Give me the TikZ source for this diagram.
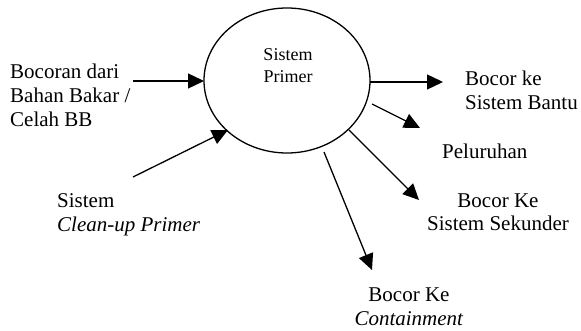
\documentclass[tikz,border=0pt]{standalone}
\usepackage{fontspec}
\setmainfont{Liberation Serif}
\usetikzlibrary{shapes.geometric,arrows.meta}
\begin{document}
\begin{tikzpicture}[x=1pt,y=-1pt,
  lab/.style={inner sep=0pt, font=\fontsize{21}{24}\selectfont},
  smalllab/.style={inner sep=0pt, font=\fontsize{18}{22}\selectfont},
  arr/.style={line width=1.3pt, -{Triangle[length=16pt,width=15pt]}}]
\useasboundingbox (0,0) rectangle (581,331);
% central ellipse
\node[ellipse, draw, line width=1.3pt, minimum width=166pt, minimum height=145pt, inner sep=0pt] (sp) at (287,80.5) {};
\node[smalllab, align=center, anchor=base] (spt) at (288,83) {Sistem\\Primer};
% labels (anchor = baseline of the last line)
\node[lab, align=left, anchor=base west] (bocoran) at (10,127) {Bocoran dari\\Bahan Bakar /\\Celah BB};
\node[lab, align=left, anchor=base west] (cleanup) at (57,232) {Sistem\\\textit{Clean-up Primer}};
\node[lab, align=left, anchor=base west] (bantu) at (465,110) {Bocor ke\\Sistem Bantu};
\node[lab, anchor=base west] (peluruhan) at (442,159) {Peluruhan};
\node[lab, align=center, anchor=base] (sekunder) at (498,231) {Bocor Ke\\Sistem Sekunder};
\node[lab, align=center, anchor=base] (contain) at (409,325) {Bocor Ke\\\textit{Containment}};
% connector end points
\coordinate (a1s) at (133,81);
\coordinate (a1e) at (204,81);
\coordinate (a2s) at (133,177);
\coordinate (a2e) at (228,130);
\coordinate (a3s) at (370,82);
\coordinate (a3e) at (443,82);
\coordinate (a4s) at (372,104);
\coordinate (a4e) at (420,128);
\coordinate (a5s) at (349,130);
\coordinate (a5e) at (419,200);
\coordinate (a6s) at (324,152);
\coordinate (a6e) at (372,270);
% connectors
\draw[arr] (a1s) -- (a1e);
\draw[arr] (a2s) -- (a2e);
\draw[arr] (a3s) -- (a3e);
\draw[arr] (a4s) -- (a4e);
\draw[arr] (a5s) -- (a5e);
\draw[arr] (a6s) -- (a6e);
\end{tikzpicture}
\end{document}
